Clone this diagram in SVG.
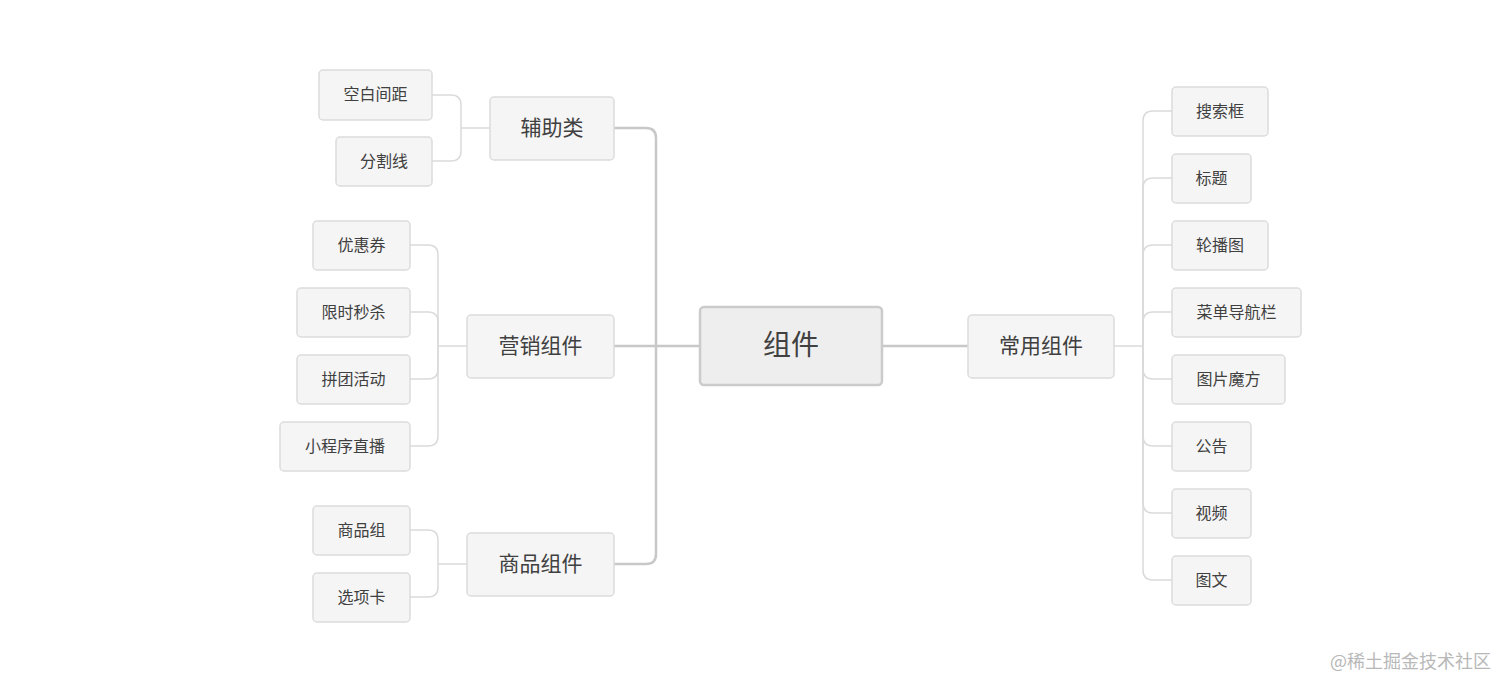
<svg xmlns="http://www.w3.org/2000/svg" width="1512" height="693" viewBox="0 0 1512 693">
<style>
text{font-family:"Noto Sans CJK SC","Noto Sans",sans-serif;fill:#404040;text-anchor:middle;dominant-baseline:central}
.n rect{fill:#f5f5f5;stroke:#dcdcdc;stroke-width:1.5}
.l2 text{font-size:16px}
.l1 text{font-size:21px}
.c rect{fill:#eeeeee;stroke:#cbcbcb;stroke-width:2.5}
.c text{font-size:28px}
.main{fill:none;stroke:#c8c8c8;stroke-width:2.5}
.sub{fill:none;stroke:#dadada;stroke-width:1.5}
.wm{font-size:18px;fill:#b8b8b8;text-anchor:start}
</style>
<rect width="1512" height="693" fill="#ffffff"/>
<g id="connectors">
<path class="main" d="M700 346 H614"/>
<path class="main" d="M656 346 V138 Q656 128 646 128 H614"/>
<path class="main" d="M656 346 V554 Q656 564 646 564 H614"/>
<path class="main" d="M882 346 H968"/>
<path class="sub" d="M1114 346 H1143"/>
<path class="sub" d="M1143 346 V121 Q1143 111 1153 111 H1172"/>
<path class="sub" d="M1143 346 V188 Q1143 178 1153 178 H1172"/>
<path class="sub" d="M1143 346 V255 Q1143 245 1153 245 H1172"/>
<path class="sub" d="M1143 346 V322 Q1143 312 1153 312 H1172"/>
<path class="sub" d="M1143 346 V369 Q1143 379 1153 379 H1172"/>
<path class="sub" d="M1143 346 V436 Q1143 446 1153 446 H1172"/>
<path class="sub" d="M1143 346 V503 Q1143 513 1153 513 H1172"/>
<path class="sub" d="M1143 346 V570 Q1143 580 1153 580 H1172"/>
<path class="sub" d="M490 128 H461"/>
<path class="sub" d="M461 128 V105 Q461 95 451 95 H432"/>
<path class="sub" d="M461 128 V151 Q461 161 451 161 H432"/>
<path class="sub" d="M467 346 H438"/>
<path class="sub" d="M438 346 V255 Q438 245 428 245 H410"/>
<path class="sub" d="M438 346 V322 Q438 312 428 312 H410"/>
<path class="sub" d="M438 346 V369 Q438 379 428 379 H410"/>
<path class="sub" d="M438 346 V436 Q438 446 428 446 H410"/>
<path class="sub" d="M467 564 H438"/>
<path class="sub" d="M438 564 V540 Q438 530 428 530 H410"/>
<path class="sub" d="M438 564 V587 Q438 597 428 597 H410"/>
</g>
<g id="root" class="n c"><rect x="700" y="307" width="182" height="78" rx="4"/><text x="791" y="343">组件</text></g>
<g id="fuzhulei" class="n l1"><rect x="490" y="97" width="124" height="63" rx="4"/><text x="552" y="126">辅助类</text></g>
<g id="yingxiao" class="n l1"><rect x="467" y="315" width="147" height="63" rx="4"/><text x="540.5" y="344">营销组件</text></g>
<g id="shangpin" class="n l1"><rect x="467" y="533" width="147" height="63" rx="4"/><text x="540.5" y="562">商品组件</text></g>
<g id="changyong" class="n l1"><rect x="968" y="315" width="146" height="63" rx="4"/><text x="1041" y="344">常用组件</text></g>
<g id="kongbai" class="n l2"><rect x="319" y="70" width="113" height="50" rx="4"/><text x="375.5" y="93">空白间距</text></g>
<g id="fenge" class="n l2"><rect x="336" y="137" width="96" height="49" rx="4"/><text x="384" y="159.5">分割线</text></g>
<g id="youhui" class="n l2"><rect x="313" y="221" width="97" height="49" rx="4"/><text x="361.5" y="243.5">优惠券</text></g>
<g id="xianshi" class="n l2"><rect x="297" y="288" width="113" height="49" rx="4"/><text x="353.5" y="310.5">限时秒杀</text></g>
<g id="pintuan" class="n l2"><rect x="297" y="355" width="113" height="49" rx="4"/><text x="353.5" y="377.5">拼团活动</text></g>
<g id="zhibo" class="n l2"><rect x="280" y="422" width="130" height="49" rx="4"/><text x="345" y="444.5">小程序直播</text></g>
<g id="spz" class="n l2"><rect x="313" y="506" width="97" height="49" rx="4"/><text x="361.5" y="528.5">商品组</text></g>
<g id="xxk" class="n l2"><rect x="313" y="573" width="97" height="49" rx="4"/><text x="361.5" y="595.5">选项卡</text></g>
<g id="sousuo" class="n l2"><rect x="1172" y="87" width="96" height="49" rx="4"/><text x="1220" y="109.5">搜索框</text></g>
<g id="biaoti" class="n l2"><rect x="1172" y="154" width="79" height="49" rx="4"/><text x="1211.5" y="176.5">标题</text></g>
<g id="lunbo" class="n l2"><rect x="1172" y="221" width="96" height="49" rx="4"/><text x="1220" y="243.5">轮播图</text></g>
<g id="caidan" class="n l2"><rect x="1172" y="288" width="129" height="49" rx="4"/><text x="1236.5" y="310.5">菜单导航栏</text></g>
<g id="mofang" class="n l2"><rect x="1172" y="355" width="113" height="49" rx="4"/><text x="1228.5" y="377.5">图片魔方</text></g>
<g id="gonggao" class="n l2"><rect x="1172" y="422" width="79" height="49" rx="4"/><text x="1211.5" y="444.5">公告</text></g>
<g id="shipin" class="n l2"><rect x="1172" y="489" width="79" height="49" rx="4"/><text x="1211.5" y="511.5">视频</text></g>
<g id="tuwen" class="n l2"><rect x="1172" y="556" width="79" height="49" rx="4"/><text x="1211.5" y="578.5">图文</text></g>
<text class="wm" x="1330" y="660">@稀土掘金技术社区</text>
</svg>
